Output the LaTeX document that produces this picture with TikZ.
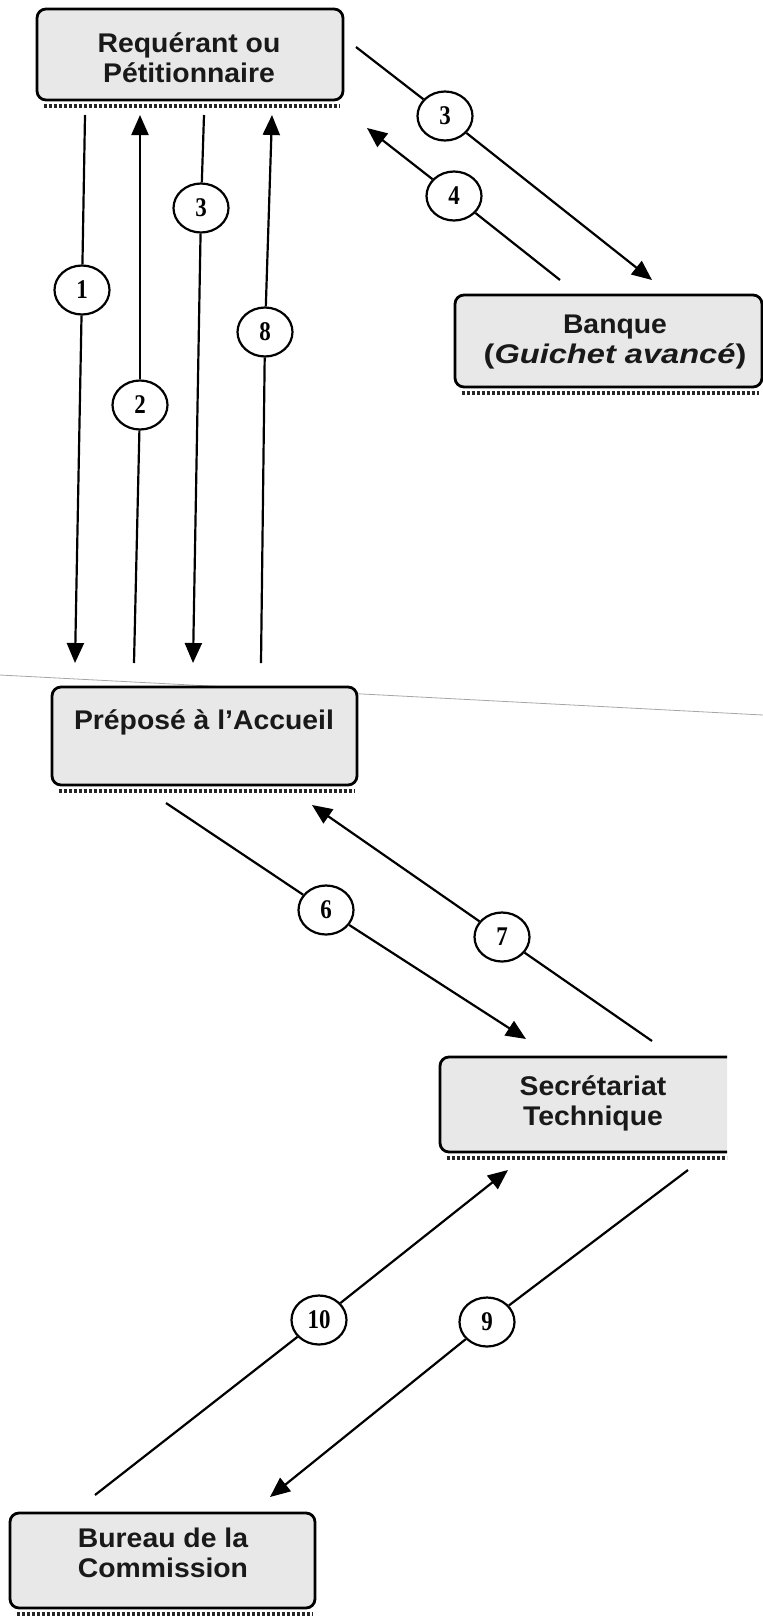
\documentclass[tikz,border=0pt]{standalone}
\usepackage{fontspec}
\usepackage{graphicx}
\setmainfont{Liberation Serif}
\newfontfamily\boxfont[FakeStretch=1.05]{Liberation Sans}
\newfontfamily\numfont[FakeStretch=0.85]{Liberation Serif}
\usetikzlibrary{arrows.meta,shapes.geometric}
\tikzset{
  box/.style={draw, line width=2.8pt, rounded corners=9pt, fill=black!9, inner sep=0pt},
  lbl/.style={font=\boxfont\bfseries\fontsize{27}{30}\selectfont, align=center, inner sep=0pt, text=black!90},
  num/.style={ellipse, draw, line width=2.2pt, fill=white, minimum width=55pt, minimum height=49pt, inner sep=0pt, font=\numfont\bfseries\fontsize{27}{27}\selectfont},
  conn/.style={line width=2.2pt},
  arr/.style={conn, -{Triangle[length=20pt,width=17pt]}},
  scallop/.style={line width=4pt, dash pattern=on 3pt off 2pt, black!85}
}
\begin{document}
\begin{tikzpicture}[x=1pt,y=-1pt]
\useasboundingbox (0,0) rectangle (763,1618);
% faint scan line
\draw[black!35, line width=0.8pt] (0,675) -- (763,715);

% boxes
\node[box, minimum width=306pt, minimum height=91pt] (req) at (190,54.5) {};
\draw[scallop] ([xshift=8pt,yshift=-5pt]req.south west) -- ([xshift=-4pt,yshift=-5pt]req.south east);
\node[lbl] (reqt) at (189,57.5) {Requérant ou\\Pétitionnaire};

\node[box, minimum width=307pt, minimum height=92pt] (ban) at (608.5,341) {};
\draw[scallop] ([xshift=8pt,yshift=-5pt]ban.south west) -- ([xshift=-4pt,yshift=-5pt]ban.south east);
\node[lbl] (bant) at (615,342) {Banque\\\scalebox{1.15}[1]{(\textit{Guichet avancé})}};

\node[box, minimum width=305pt, minimum height=98pt] (pre) at (204.5,736) {};
\draw[scallop] ([xshift=8pt,yshift=-5pt]pre.south west) -- ([xshift=-4pt,yshift=-5pt]pre.south east);
\node[lbl] (pret) at (204,722) {Préposé à l’Accueil};

\begin{scope}
\clip (0,1000) rectangle (727,1200);
\node[box, minimum width=360pt, minimum height=95pt] (sec) at (620,1104.5) {};
\draw[scallop] ([xshift=8pt,yshift=-5pt]sec.south west) -- ([xshift=-4pt,yshift=-5pt]sec.south east);
\end{scope}
\node[lbl] (sect) at (593,1103) {Secrétariat\\Technique};

\node[box, minimum width=305pt, minimum height=95pt] (bur) at (162.5,1560.5) {};
\draw[scallop] ([xshift=8pt,yshift=-5pt]bur.south west) -- ([xshift=-4pt,yshift=-5pt]bur.south east);
\node[lbl] (burt) at (163,1553) {Bureau de la\\Commission};

% connector end points
\coordinate (s1) at (85,115);   \coordinate (e1) at (75,663);
\coordinate (s2) at (134,663);  \coordinate (e2) at (140,115);
\coordinate (s3) at (204,115);  \coordinate (e3) at (193,663);
\coordinate (s8) at (261,663);  \coordinate (e8) at (272,115);
\coordinate (s3d) at (356,47);  \coordinate (e3d) at (652,280);
\coordinate (s4) at (560,280);  \coordinate (e4) at (367,128);
\coordinate (s6) at (166,803);  \coordinate (e6) at (526,1039);
\coordinate (s7) at (652,1041); \coordinate (e7) at (312,805);
\coordinate (s10) at (95,1495); \coordinate (e10) at (508,1170);
\coordinate (s9) at (688,1170); \coordinate (e9) at (270,1497);

% number circles
\node[num] (c1) at (82,290) {1};
\node[num] (c2) at (140,405) {2};
\node[num] (c3) at (201,208) {3};
\node[num] (c8) at (265,332) {8};
\node[num] (c3d) at (445,116) {3};
\node[num] (c4) at (454,196) {4};
\node[num] (c6) at (326,910) {6};
\node[num] (c7) at (502,937) {7};
\node[num] (c10) at (319,1320) {10};
\node[num] (c9) at (487,1322) {9};

% connectors
\foreach \n in {1,2,3,8,3d,4,6,7,10,9}{
  \draw[conn] (s\n) -- (c\n);
  \draw[arr] (c\n) -- (e\n);
}
\end{tikzpicture}
\end{document}
